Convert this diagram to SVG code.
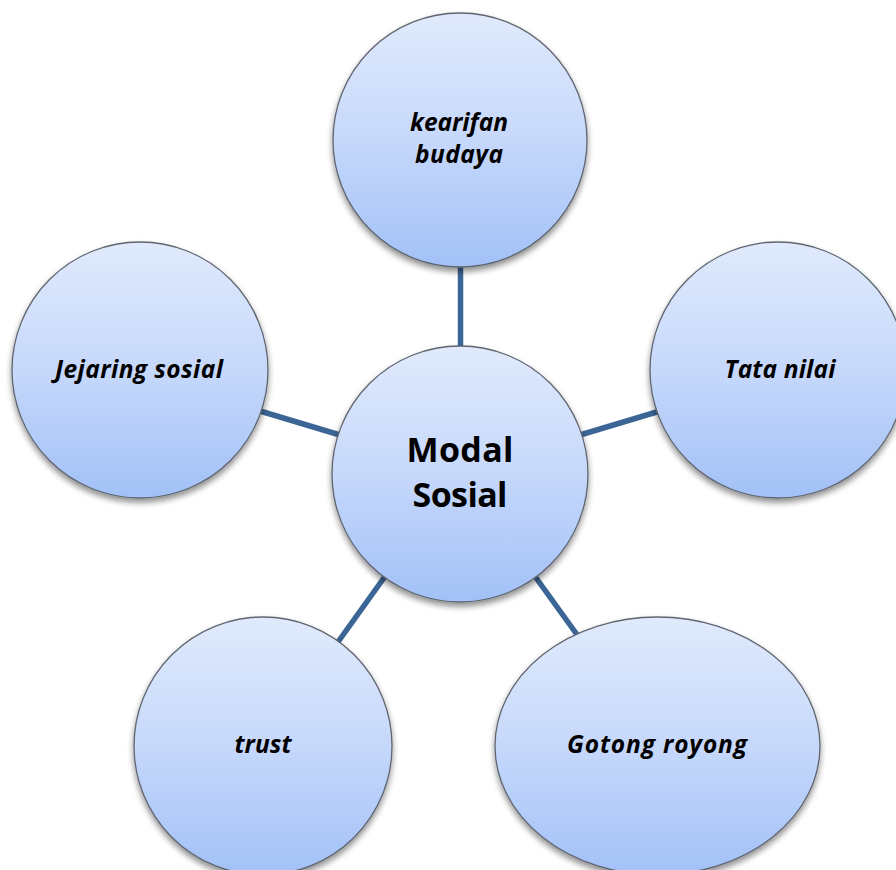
<svg xmlns="http://www.w3.org/2000/svg" width="896" height="870" viewBox="0 0 896 870">
  <defs>
    <linearGradient id="bubbleFill" x1="0" y1="0" x2="0" y2="1">
      <stop offset="0" stop-color="#e0eafc"/>
      <stop offset="0.5" stop-color="#c6d8fb"/>
      <stop offset="1" stop-color="#a2c1f7"/>
    </linearGradient>
    <filter id="softShadow" x="-20%" y="-20%" width="140%" height="150%">
      <feGaussianBlur in="SourceAlpha" stdDeviation="3"/>
      <feOffset dx="0" dy="4" result="blur"/>
      <feComponentTransfer><feFuncA type="linear" slope="0.45"/></feComponentTransfer>
      <feMerge><feMergeNode/><feMergeNode in="SourceGraphic"/></feMerge>
    </filter>
  </defs>
  <style>
    .bubble { fill: url(#bubbleFill); stroke: #5f6670; stroke-width: 1.3; filter: url(#softShadow); }
    .link { stroke: #3b6595; stroke-width: 5.5; fill: none; }
    .label { font-family: "Open Sans", Lato, "Liberation Sans", sans-serif; font-weight: bold; font-style: italic; font-size: 24.5px; fill: #000; text-anchor: middle; }
    .hub { font-family: "Open Sans", Lato, "Liberation Sans", sans-serif; font-weight: bold; font-size: 34px; fill: #000; text-anchor: middle; }
  </style>
  <rect width="896" height="870" fill="#ffffff"/>

  <!-- spokes from the hub to each satellite -->
  <g id="connectors">
    <line class="link" x1="460.5" y1="262" x2="460.5" y2="350"/>
    <line class="link" x1="260" y1="411" x2="340" y2="435"/>
    <line class="link" x1="580" y1="435" x2="660" y2="411"/>
    <line class="link" x1="386" y1="575" x2="338" y2="642"/>
    <line class="link" x1="534" y1="575" x2="578" y2="636"/>
  </g>

  <g id="kearifan-budaya">
    <circle class="bubble" cx="460" cy="140" r="127"/>
    <text class="label" x="459" y="131" textLength="98" lengthAdjust="spacing">kearifan</text>
    <text class="label" x="459" y="163" textLength="88" lengthAdjust="spacing">budaya</text>
  </g>

  <g id="jejaring-sosial">
    <circle class="bubble" cx="140" cy="370" r="128"/>
    <text class="label" x="139" y="378" textLength="168" lengthAdjust="spacing">Jejaring sosial</text>
  </g>

  <g id="tata-nilai">
    <circle class="bubble" cx="778" cy="370" r="128"/>
    <text class="label" x="780" y="378" textLength="111" lengthAdjust="spacing">Tata nilai</text>
  </g>

  <g id="modal-sosial">
    <circle class="bubble" cx="460" cy="474" r="128"/>
    <text class="hub" x="460" y="462" textLength="107" lengthAdjust="spacing">Modal</text>
    <text class="hub" x="460" y="507" textLength="95" lengthAdjust="spacing">Sosial</text>
  </g>

  <g id="trust">
    <circle class="bubble" cx="263" cy="746" r="129"/>
    <text class="label" x="263" y="753" textLength="57" lengthAdjust="spacing">trust</text>
  </g>

  <g id="gotong-royong">
    <ellipse class="bubble" cx="657.5" cy="746" rx="162.5" ry="129"/>
    <text class="label" x="657" y="753" textLength="180" lengthAdjust="spacing">Gotong royong</text>
  </g>
</svg>
